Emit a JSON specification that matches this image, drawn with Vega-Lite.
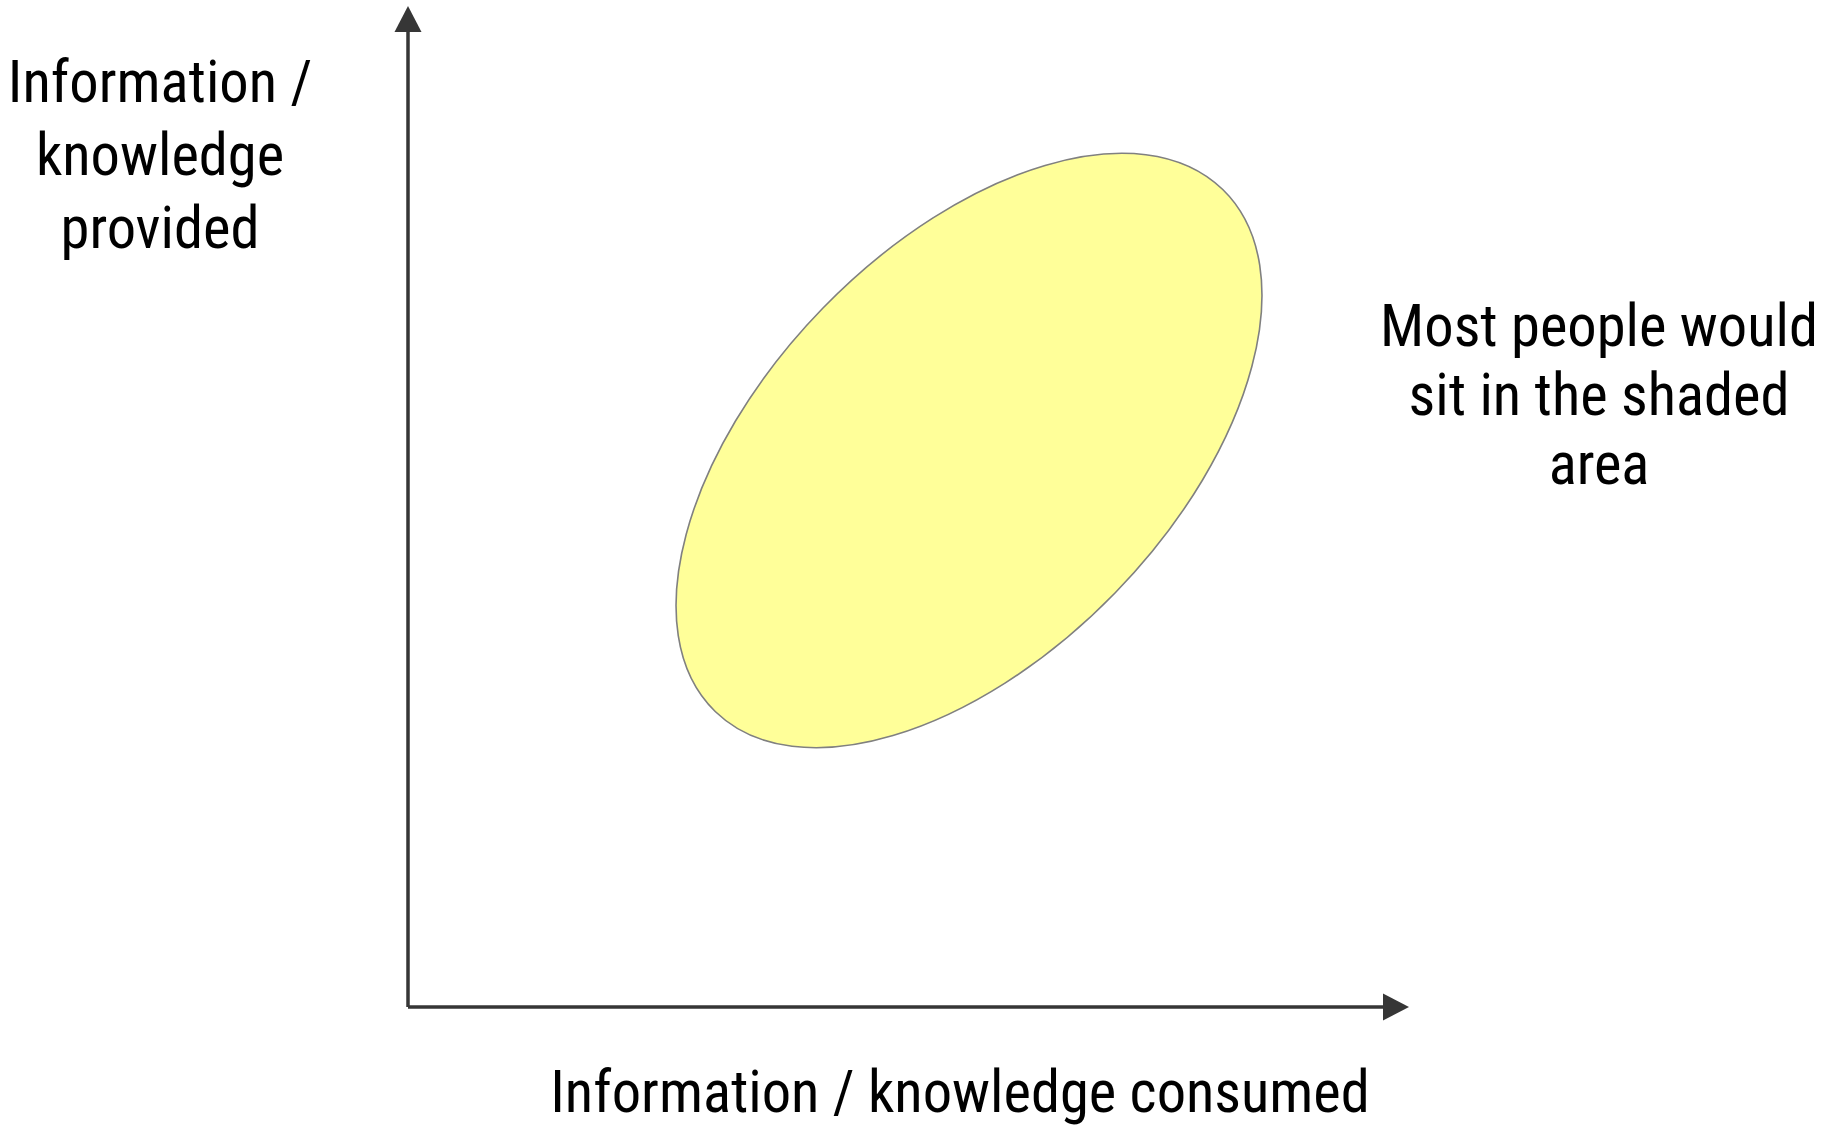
{
  "$schema": "https://vega.github.io/schema/vega-lite/v6.json",
  "width": 1829,
  "height": 1127,
  "autosize": "none",
  "padding": 0,
  "background": "#ffffff",
  "config": {"view": {"stroke": null}},
  "datasets": {
    "axes": [
      {"name": "vertical", "x": 0, "y": 0, "x2": 0, "y2": 97.5},
      {"name": "horizontal", "x": 0, "y": 0, "x2": 97.5, "y2": 0}
    ],
    "arrowUp": [{"x": 0, "y": 98.8}],
    "arrowRight": [{"x": 98.8, "y": 0}],
    "region": [{"label": "Most people", "x": 56.1, "y": 55.65}],
    "leftLabel": [{"x": -24.8, "y": 90.5, "text": "Information /\nknowledge\nprovided"}],
    "rightLabel": [{"x": 119.1, "y": 66.1, "text": "Most people would\nsit in the shaded\narea"}],
    "bottomLabel": [{"x": 55.2, "y": -10.5, "text": "Information / knowledge consumed"}]
  },
  "encoding": {
    "x": {"field": "x", "type": "quantitative", "scale": {"domain": [-40.8, 142.1], "nice": false, "zero": false}, "axis": null},
    "y": {"field": "y", "type": "quantitative", "scale": {"domain": [-12.0, 100.7], "nice": false, "zero": false}, "axis": null}
  },
  "layer": [
    {
      "data": {"name": "region"},
      "mark": {
        "type": "point",
        "shape": "M-364,0A364,204,0,1,1,364,0A364,204,0,1,1,-364,0Z",
        "size": 4,
        "angle": 314.2,
        "filled": true,
        "fill": "#FFFF99",
        "stroke": "#808080",
        "strokeWidth": 1.6,
        "opacity": 1,
        "fillOpacity": 1,
        "strokeOpacity": 1
      }
    },
    {
      "data": {"name": "axes"},
      "mark": {"type": "rule", "color": "#363636", "strokeWidth": 3.5},
      "encoding": {
        "x2": {"field": "x2"},
        "y2": {"field": "y2"}
      }
    },
    {
      "data": {"name": "arrowUp"},
      "mark": {"type": "point", "shape": "M0,-13L13.5,13L-13.5,13Z", "size": 4, "filled": true, "fill": "#363636", "stroke": null, "opacity": 1}
    },
    {
      "data": {"name": "arrowRight"},
      "mark": {"type": "point", "shape": "M13,0L-13,13.5L-13,-13.5Z", "size": 4, "filled": true, "fill": "#363636", "stroke": null, "opacity": 1}
    },
    {
      "data": {"name": "leftLabel"},
      "mark": {"type": "text", "font": "Liberation Sans Narrow, Arial Narrow, Roboto Condensed, DejaVu Sans Condensed, Liberation Sans", "fontSize": 58.5, "align": "center", "baseline": "alphabetic", "lineBreak": "\n", "lineHeight": 73, "color": "#000000"},
      "encoding": {"text": {"field": "text"}}
    },
    {
      "data": {"name": "rightLabel"},
      "mark": {"type": "text", "font": "Liberation Sans Narrow, Arial Narrow, Roboto Condensed, DejaVu Sans Condensed, Liberation Sans", "fontSize": 58.5, "align": "center", "baseline": "alphabetic", "lineBreak": "\n", "lineHeight": 69, "color": "#000000"},
      "encoding": {"text": {"field": "text"}}
    },
    {
      "data": {"name": "bottomLabel"},
      "mark": {"type": "text", "font": "Liberation Sans Narrow, Arial Narrow, Roboto Condensed, DejaVu Sans Condensed, Liberation Sans", "fontSize": 58.5, "align": "center", "baseline": "alphabetic", "color": "#000000"},
      "encoding": {"text": {"field": "text"}}
    }
  ]
}
